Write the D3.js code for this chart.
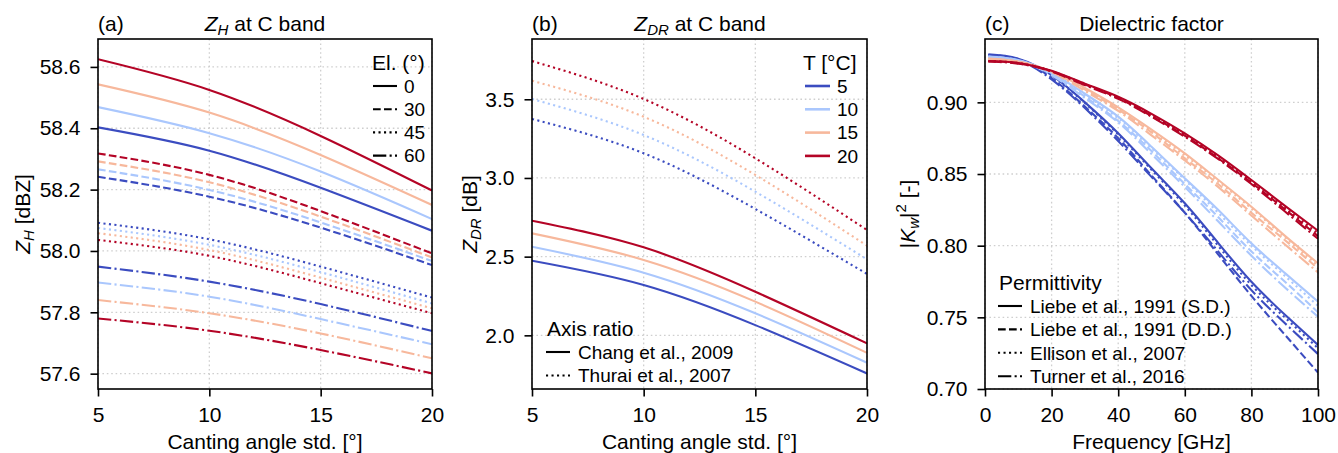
<!DOCTYPE html>
<html>
<head>
<meta charset="utf-8">
<script src="https://cdn.jsdelivr.net/npm/d3@7"></script>
<style>
  body { margin: 0; background: #fff; }
  text { font-family: "Liberation Sans", Arial, sans-serif; fill: #000; }
  .axis path { display: none; }
  .axis line { stroke: #000; stroke-width: 1.6; }
  .axis text { font-size: 21px; font-family: "Liberation Sans", Arial, sans-serif; }
  .grid line { stroke: #cfcfcf; stroke-width: 1.3; stroke-dasharray: 1.6 2.8; }
</style>
</head>
<body>
<svg id="fig" width="1338" height="453"></svg>
<script>
"use strict";

// ---- data ----
const cantingAngles = [5, 10, 15, 20];
const temperatures = [5, 10, 15, 20];
const elevations = [0, 30, 45, 60];

// Z_H [dBZ], one row per temperature (5, 10, 15, 20 degC)
const zhEl0 = [
  [58.403, 58.327, 58.206, 58.066],
  [58.469, 58.384, 58.259, 58.104],
  [58.543, 58.451, 58.313, 58.150],
  [58.625, 58.525, 58.375, 58.197],
];
const zhEl30 = [
  [58.242, 58.177, 58.076, 57.954],
  [58.266, 58.199, 58.093, 57.967],
  [58.292, 58.224, 58.112, 57.979],
  [58.318, 58.248, 58.130, 57.992],
];
const zhEl45 = [
  [58.092, 58.038, 57.949, 57.848],
  [58.075, 58.020, 57.931, 57.829],
  [58.058, 58.003, 57.913, 57.813],
  [58.036, 57.984, 57.895, 57.797],
];
const zhEl60 = [
  [57.949, 57.900, 57.827, 57.739],
  [57.897, 57.851, 57.778, 57.696],
  [57.840, 57.797, 57.731, 57.650],
  [57.780, 57.740, 57.677, 57.601],
];

// Z_DR [dB]
const zdrChang = [
  [2.474, 2.320, 2.065, 1.758],
  [2.563, 2.398, 2.140, 1.826],
  [2.648, 2.479, 2.214, 1.889],
  [2.728, 2.559, 2.277, 1.949],
];
const zdrThurai = [
  [3.375, 3.157, 2.803, 2.390],
  [3.502, 3.273, 2.913, 2.483],
  [3.618, 3.389, 3.019, 2.570],
  [3.743, 3.502, 3.125, 2.669],
];

// |Kw|^2 vs frequency
const frequencies = [1, 10, 20, 30, 40, 50, 60, 70, 80, 90, 100];
const kwLiebeSD = [
  [0.9335, 0.9305, 0.9190, 0.9000, 0.8785, 0.8540, 0.8296, 0.8020, 0.7748, 0.7520, 0.7307],
  [0.9320, 0.9295, 0.9205, 0.9060, 0.8900, 0.8690, 0.8470, 0.8250, 0.8016, 0.7810, 0.7609],
  [0.9305, 0.9285, 0.9215, 0.9100, 0.8965, 0.8810, 0.8644, 0.8460, 0.8272, 0.8070, 0.7877],
  [0.9288, 0.9275, 0.9220, 0.9130, 0.9039, 0.8920, 0.8784, 0.8630, 0.8458, 0.8280, 0.8104],
];
const kwLiebeDD = [
  [0.9330, 0.9300, 0.9170, 0.8970, 0.8750, 0.8490, 0.8230, 0.7940, 0.7650, 0.7380, 0.7114],
  [0.9318, 0.9293, 0.9195, 0.9040, 0.8870, 0.8660, 0.8430, 0.8200, 0.7960, 0.7750, 0.7535],
  [0.9303, 0.9283, 0.9212, 0.9090, 0.8950, 0.8790, 0.8610, 0.8430, 0.8230, 0.8040, 0.7840],
  [0.9287, 0.9273, 0.9217, 0.9125, 0.9030, 0.8905, 0.8768, 0.8610, 0.8440, 0.8255, 0.8067],
];
const kwEllison = [
  [0.9330, 0.9300, 0.9185, 0.8995, 0.8775, 0.8530, 0.8280, 0.8000, 0.7725, 0.7500, 0.7284],
  [0.9318, 0.9293, 0.9200, 0.9050, 0.8890, 0.8680, 0.8460, 0.8230, 0.8000, 0.7790, 0.7580],
  [0.9303, 0.9283, 0.9213, 0.9095, 0.8960, 0.8800, 0.8630, 0.8450, 0.8260, 0.8060, 0.7860],
  [0.9287, 0.9274, 0.9218, 0.9127, 0.9033, 0.8910, 0.8775, 0.8620, 0.8445, 0.8265, 0.8086],
];
const kwTurner = [
  [0.9325, 0.9295, 0.9160, 0.8960, 0.8730, 0.8480, 0.8230, 0.7960, 0.7690, 0.7460, 0.7244],
  [0.9315, 0.9290, 0.9190, 0.9030, 0.8860, 0.8640, 0.8410, 0.8170, 0.7930, 0.7710, 0.7504],
  [0.9300, 0.9280, 0.9210, 0.9080, 0.8940, 0.8770, 0.8595, 0.8410, 0.8210, 0.8010, 0.7814],
  [0.9285, 0.9270, 0.9215, 0.9120, 0.9025, 0.8900, 0.8760, 0.8605, 0.8430, 0.8240, 0.8048],
];

const xTicksAngle = [5, 10, 15, 20];
const yTicksZh = [57.6, 57.8, 58.0, 58.2, 58.4, 58.6];
const yTicksZdr = [2.0, 2.5, 3.0, 3.5];
const xTicksFreq = [0, 20, 40, 60, 80, 100];
const yTicksKw = [0.70, 0.75, 0.80, 0.85, 0.90];

// ---- styles ----
const tempColors = ["#3b4cc0", "#aac7fd", "#f7b89c", "#b40426"];
const LW = 2.1;
const dashes = {
  solid: null,
  dashed: "7.7 3.3",
  dotted: "2.1 3.4",
  dashdot: "13.3 3.3 2.1 3.3",
};
const TOP = 39;
const BOTTOM = 389;

const svg = d3.select("#fig");
svg.append("rect").attr("width", 1338).attr("height", 453).attr("fill", "#fff");

function makePanel(p) {
  const x = d3.scaleLinear().domain(p.xDomain).range([p.left, p.right]);
  const y = d3.scaleLinear().domain(p.yDomain).range([BOTTOM, TOP]);
  const g = svg.append("g");

  const grid = g.append("g").attr("class", "grid");
  grid
    .selectAll("line.gx")
    .data(p.xTicks)
    .join("line")
    .attr("class", "gx")
    .attr("x1", (d) => x(d))
    .attr("x2", (d) => x(d))
    .attr("y1", TOP)
    .attr("y2", BOTTOM);
  grid
    .selectAll("line.gy")
    .data(p.yTicks)
    .join("line")
    .attr("class", "gy")
    .attr("x1", p.left)
    .attr("x2", p.right)
    .attr("y1", (d) => y(d))
    .attr("y2", (d) => y(d));

  const clipId = "clip-" + p.id;
  g.append("clipPath")
    .attr("id", clipId)
    .append("rect")
    .attr("x", p.left)
    .attr("y", TOP)
    .attr("width", p.right - p.left)
    .attr("height", BOTTOM - TOP);
  const plot = g.append("g").attr("clip-path", `url(#${clipId})`);

  g.append("rect")
    .attr("x", p.left)
    .attr("y", TOP)
    .attr("width", p.right - p.left)
    .attr("height", BOTTOM - TOP)
    .attr("fill", "none")
    .attr("stroke", "#000")
    .attr("stroke-width", 1.6);

  g.append("g")
    .attr("class", "axis")
    .attr("transform", `translate(0,${BOTTOM})`)
    .call(
      d3.axisBottom(x).tickValues(p.xTicks).tickSize(7.5).tickPadding(11).tickFormat(d3.format("d"))
    );
  g.append("g")
    .attr("class", "axis")
    .attr("transform", `translate(${p.left},0)`)
    .call(
      d3.axisLeft(y).tickValues(p.yTicks).tickSize(7.5).tickPadding(10).tickFormat(d3.format(p.yFormat))
    );

  // panel letter
  g.append("text")
    .attr("x", p.left)
    .attr("y", 31)
    .style("font-size", "21px")
    .text(p.letter);

  // x label
  g.append("text")
    .attr("x", (p.left + p.right) / 2)
    .attr("y", 449)
    .attr("text-anchor", "middle")
    .style("font-size", "21px")
    .text(p.xLabel);

  return { g, plot, x, y };
}

function drawSeries(panel, xs, rows, dash) {
  const gen = d3
    .line()
    .x((d, i) => panel.x(xs[i]))
    .y((d) => panel.y(d))
    .curve(d3.curveNatural);
  rows.forEach((row, t) => {
    panel.plot
      .append("path")
      .attr("d", gen(row))
      .attr("fill", "none")
      .attr("stroke", tempColors[t])
      .attr("stroke-width", LW)
      .attr("stroke-dasharray", dash);
  });
}

function legend(g, opt) {
  g.append("text")
    .attr("x", opt.titleX)
    .attr("y", opt.titleY)
    .attr("dy", "0.36em")
    .style("font-size", "21px")
    .text(opt.title);
  opt.items.forEach((it, i) => {
    const cy = opt.y0 + i * opt.step;
    g.append("line")
      .attr("x1", opt.lineX)
      .attr("x2", opt.lineX + opt.lineLen)
      .attr("y1", cy)
      .attr("y2", cy)
      .attr("stroke", it.color)
      .attr("stroke-width", it.width || LW)
      .attr("stroke-dasharray", it.dash);
    g.append("text")
      .attr("x", opt.textX)
      .attr("y", cy)
      .attr("dy", "0.36em")
      .style("font-size", "19px")
      .text(it.label);
  });
}

// ---- (a) Z_H ----
const pa = makePanel({
  id: "a",
  letter: "(a)",
  left: 98,
  right: 432,
  xDomain: [5, 20],
  yDomain: [57.55, 58.691],
  xTicks: xTicksAngle,
  yTicks: yTicksZh,
  yFormat: ".1f",
  xLabel: "Canting angle std. [°]",
});
drawSeries(pa, cantingAngles, zhEl0, dashes.solid);
drawSeries(pa, cantingAngles, zhEl30, dashes.dashed);
drawSeries(pa, cantingAngles, zhEl45, dashes.dotted);
drawSeries(pa, cantingAngles, zhEl60, dashes.dashdot);

let t = pa.g.append("text").attr("x", 265).attr("y", 31).attr("text-anchor", "middle").style("font-size", "21px");
t.append("tspan").style("font-style", "italic").text("Z");
t.append("tspan").style("font-style", "italic").style("font-size", "15px").attr("dy", 4).text("H");
t.append("tspan").attr("dy", -4).text(" at C band");

t = pa.g.append("text").attr("transform", "translate(30,214) rotate(-90)").attr("text-anchor", "middle").style("font-size", "21px");
t.append("tspan").style("font-style", "italic").text("Z");
t.append("tspan").style("font-style", "italic").style("font-size", "15px").attr("dy", 4).text("H");
t.append("tspan").attr("dy", -4).text(" [dBZ]");

legend(pa.g, {
  title: "El. (°)",
  titleX: 372,
  titleY: 62,
  lineX: 373,
  lineLen: 24,
  textX: 404,
  y0: 86,
  step: 23.2,
  items: elevations.map((e, i) => ({
    label: String(e),
    color: "#000",
    dash: [dashes.solid, dashes.dashed, dashes.dotted, dashes.dashdot][i],
  })),
});

// ---- (b) Z_DR ----
const pb = makePanel({
  id: "b",
  letter: "(b)",
  left: 532,
  right: 867,
  xDomain: [5, 20],
  yDomain: [1.659, 3.883],
  xTicks: xTicksAngle,
  yTicks: yTicksZdr,
  yFormat: ".1f",
  xLabel: "Canting angle std. [°]",
});
drawSeries(pb, cantingAngles, zdrChang, dashes.solid);
drawSeries(pb, cantingAngles, zdrThurai, dashes.dotted);

t = pb.g.append("text").attr("x", 700).attr("y", 31).attr("text-anchor", "middle").style("font-size", "21px");
t.append("tspan").style("font-style", "italic").text("Z");
t.append("tspan").style("font-style", "italic").style("font-size", "15px").attr("dy", 4).text("DR");
t.append("tspan").attr("dy", -4).text(" at C band");

t = pb.g.append("text").attr("transform", "translate(477,214) rotate(-90)").attr("text-anchor", "middle").style("font-size", "21px");
t.append("tspan").style("font-style", "italic").text("Z");
t.append("tspan").style("font-style", "italic").style("font-size", "15px").attr("dy", 4).text("DR");
t.append("tspan").attr("dy", -4).text(" [dB]");

legend(pb.g, {
  title: "T [°C]",
  titleX: 803,
  titleY: 62,
  lineX: 805,
  lineLen: 25,
  textX: 837,
  y0: 86,
  step: 23.3,
  items: temperatures.map((v, i) => ({ label: String(v), color: tempColors[i], dash: null, width: 2.6 })),
});
legend(pb.g, {
  title: "Axis ratio",
  titleX: 547,
  titleY: 328,
  lineX: 546,
  lineLen: 24,
  textX: 578,
  y0: 352,
  step: 23.5,
  items: [
    { label: "Chang et al., 2009", color: "#000", dash: dashes.solid },
    { label: "Thurai et al., 2007", color: "#000", dash: dashes.dotted },
  ],
});

// ---- (c) dielectric factor ----
const pc = makePanel({
  id: "c",
  letter: "(c)",
  left: 985,
  right: 1318,
  xDomain: [0, 100],
  yDomain: [0.70, 0.9442],
  xTicks: xTicksFreq,
  yTicks: yTicksKw,
  yFormat: ".2f",
  xLabel: "Frequency [GHz]",
});
temperatures.forEach((v, i) => {
  const gen = d3
    .line()
    .x((d, j) => pc.x(frequencies[j]))
    .y((d) => pc.y(d))
    .curve(d3.curveNatural);
  [
    [kwLiebeSD, dashes.solid],
    [kwLiebeDD, dashes.dashed],
    [kwEllison, dashes.dotted],
    [kwTurner, dashes.dashdot],
  ].forEach(([rows, dash]) => {
    pc.plot
      .append("path")
      .attr("d", gen(rows[i]))
      .attr("fill", "none")
      .attr("stroke", tempColors[i])
      .attr("stroke-width", LW)
      .attr("stroke-dasharray", dash);
  });
});

pc.g.append("text").attr("x", 1151.5).attr("y", 31).attr("text-anchor", "middle").style("font-size", "21px").text("Dielectric factor");

t = pc.g.append("text").attr("transform", "translate(915,214) rotate(-90)").attr("text-anchor", "middle").style("font-size", "21px");
t.append("tspan").text("|");
t.append("tspan").style("font-style", "italic").text("K");
t.append("tspan").style("font-style", "italic").style("font-size", "15px").attr("dy", 4).text("w");
t.append("tspan").attr("dy", -4).text("|");
t.append("tspan").style("font-size", "15px").attr("dy", -9).text("2");
t.append("tspan").attr("dy", 9).text(" [-]");

legend(pc.g, {
  title: "Permittivity",
  titleX: 999,
  titleY: 282,
  lineX: 998,
  lineLen: 24,
  textX: 1030,
  y0: 306,
  step: 23.4,
  items: [
    { label: "Liebe et al., 1991 (S.D.)", color: "#000", dash: dashes.solid },
    { label: "Liebe et al., 1991 (D.D.)", color: "#000", dash: dashes.dashed },
    { label: "Ellison et al., 2007", color: "#000", dash: dashes.dotted },
    { label: "Turner et al., 2016", color: "#000", dash: dashes.dashdot },
  ],
});
</script>
</body>
</html>
